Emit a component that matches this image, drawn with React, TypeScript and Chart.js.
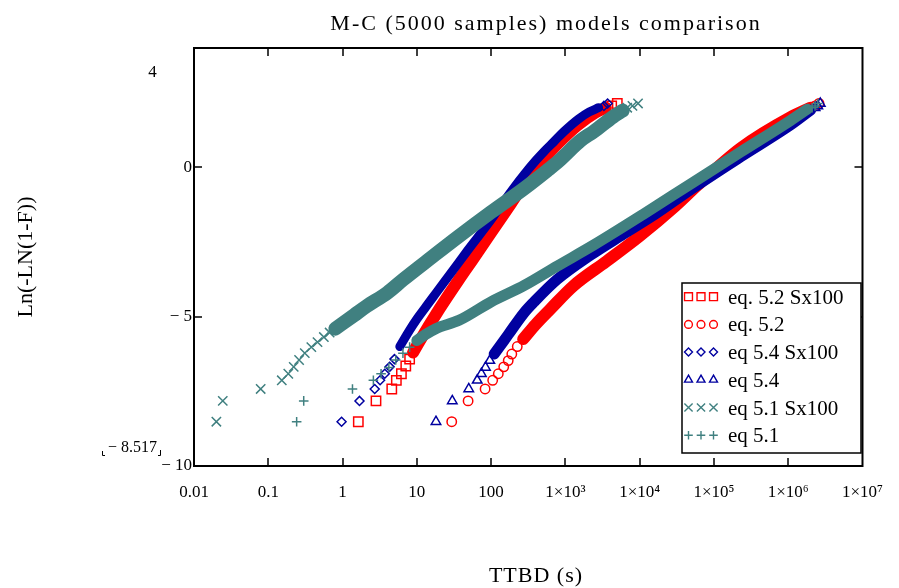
import React, { useEffect, useRef } from 'react';
import { Chart, registerables } from 'chart.js';

Chart.register(...registerables);

type Pt = [number, number];

const titleText = 'M-C (5000 samples) models comparison';
const xAxisTitle = 'TTBD (s)';
const yAxisTitle = 'Ln(-LN(1-F))';

const xMin = 0.01;
const xMax = 1e7;
const yMin = -10;
const yMax = 4;

const xTickValues = [0.01, 0.1, 1, 10, 100, 1e3, 1e4, 1e5, 1e6, 1e7];
const xTickLabels = ['0.01', '0.1', '1', '10', '100', '1×10³', '1×10⁴', '1×10⁵', '1×10⁶', '1×10⁷'];
const yTickValues = [-10, -5, 0];
const yTickLabels = ['\u2212 10', '\u2212 5', '0'];
const yTopLabel = '4';
const yMarkerLabel = '\u2212 8.517';

const seriesLabels = ['eq. 5.2 Sx100', 'eq. 5.2', 'eq 5.4 Sx100', 'eq 5.4', 'eq 5.1 Sx100', 'eq 5.1'];

// eq. 5.2 Sx100 (red squares)
const eq52Sx100Low: Pt[] = [[1.63, -8.517], [2.82, -7.82], [4.6, -7.42], [5.3, -7.13], [6.2, -6.91], [7.1, -6.65], [8.0, -6.42]];
const eq52Sx100Band: Pt[] = [[8.9, -6.2], [11, -5.8], [20, -4.75], [37, -3.75], [56, -3.1], [102, -2.15], [186, -1.2], [280, -0.55], [520, 0.3], [780, 0.78], [1435, 1.4], [2500, 1.83], [3500, 2.0]];
const eq52Sx100High: Pt[] = [[4200, 2.06], [5000, 2.142]];

// eq. 5.2 (red circles)
const eq52Low: Pt[] = [[29.5, -8.517], [49, -7.82], [83, -7.42], [105, -7.13], [125, -6.91], [148, -6.68], [170, -6.47], [190, -6.25], [225, -6.0]];
const eq52Band: Pt[] = [[270, -5.75], [400, -5.25], [630, -4.74], [1290, -3.96], [3550, -3.15], [1e4, -2.3], [3e4, -1.3], [6e4, -0.6], [2.3e5, 0.65], [1.07e6, 1.68], [2e6, 2.0]];
const eq52High: Pt[] = [[2.3e6, 2.06], [2.6e6, 2.142]];

// eq 5.4 Sx100 (blue diamonds)
const eq54Sx100Low: Pt[] = [[0.97, -8.517], [1.69, -7.82], [2.71, -7.42], [3.2, -7.13], [3.7, -6.91], [4.3, -6.68], [5.0, -6.42]];
const eq54Sx100Band: Pt[] = [[5.9, -6.0], [8, -5.45], [10, -5.08], [13.4, -4.65], [18, -4.22], [37, -3.17], [50, -2.73], [100, -1.75], [140, -1.23], [200, -0.7], [280, -0.23], [400, 0.23], [520, 0.54], [700, 0.86], [955, 1.2], [1500, 1.62], [2100, 1.86], [2800, 2.0]];
const eq54Sx100High: Pt[] = [[3300, 2.06], [3700, 2.142]];

// eq 5.4 (blue triangles)
const eq54Low: Pt[] = [[18.1, -8.517], [30, -7.82], [50, -7.42], [65, -7.13], [74, -6.91], [84, -6.7], [96, -6.47]];
const eq54Band: Pt[] = [[110, -6.25], [126, -6.05], [170, -5.6], [282, -4.85], [380, -4.5], [776, -3.75], [2140, -2.95], [5900, -2.25], [1.65e4, -1.55], [5e4, -0.72], [2.3e5, 0.36], [1.07e6, 1.42], [2e6, 1.92]];
const eq54High: Pt[] = [[2.3e6, 2.0], [2.5e6, 2.06], [2.7e6, 2.142]];

// eq 5.1 Sx100 (teal crosses x)
const eq51Sx100Low: Pt[] = [[0.02, -8.517], [0.0244, -7.82], [0.079, -7.42], [0.152, -7.13], [0.186, -6.91], [0.22, -6.68], [0.26, -6.45], [0.31, -6.22], [0.38, -6.02], [0.46, -5.85], [0.56, -5.68], [0.67, -5.53]];
const eq51Sx100Band: Pt[] = [[0.8, -5.4], [1.43, -4.95], [2.1, -4.65], [4, -4.2], [6.6, -3.75], [16, -3.0], [37, -2.3], [100, -1.5], [280, -0.7], [570, -0.1], [800, 0.2], [1600, 0.9], [2400, 1.2], [4400, 1.7], [5900, 1.9]];
const eq51Sx100High: Pt[] = [[6800, 2.0], [8000, 2.06], [9500, 2.142]];

// eq 5.1 (teal plus)
const eq51Low: Pt[] = [[0.241, -8.517], [0.3, -7.82], [1.36, -7.42], [2.6, -7.13], [3.3, -6.91], [4.2, -6.7], [5.2, -6.45], [6.5, -6.22], [8.0, -6.02]];
const eq51Band: Pt[] = [[10, -5.8], [13, -5.6], [18, -5.4], [37, -5.12], [100, -4.5], [280, -3.95], [780, -3.3], [2400, -2.6], [1.1e4, -1.58], [5e4, -0.53], [2.3e5, 0.52], [1.07e6, 1.57], [1.8e6, 1.95]];
const eq51High: Pt[] = [[2.1e6, 2.0], [2.3e6, 2.06], [2.5e6, 2.142]];

const RED = '#ff0000';
const BLUE = '#0000a0';
const TEAL = '#408080';
const FONT = '"Liberation Serif", "Times New Roman", Times, serif';

const SERIES = [
  { label: seriesLabels[0], low: eq52Sx100Low, band: eq52Sx100Band, high: eq52Sx100High, color: RED, style: 'rect', r: 6.6, lr: 5.6, bw: 12, order: 3 },
  { label: seriesLabels[1], low: eq52Low, band: eq52Band, high: eq52High, color: RED, style: 'circle', r: 4.7, lr: 3.9, bw: 12, order: 3 },
  { label: seriesLabels[2], low: eq54Sx100Low, band: eq54Sx100Band, high: eq54Sx100High, color: BLUE, style: 'rectRot', r: 4.5, lr: 4.0, bw: 9, order: 2 },
  { label: seriesLabels[3], low: eq54Low, band: eq54Band, high: eq54High, color: BLUE, style: 'triangle', r: 5.5, lr: 4.6, bw: 11, order: 2 },
  { label: seriesLabels[4], low: eq51Sx100Low, band: eq51Sx100Band, high: eq51Sx100High, color: TEAL, style: 'crossRot', r: 6.6, lr: 5.8, bw: 14, order: 1 },
  { label: seriesLabels[5], low: eq51Low, band: eq51Band, high: eq51High, color: TEAL, style: 'cross', r: 4.8, lr: 4.3, bw: 11, order: 1 },
];

function drawMarker(ctx: CanvasRenderingContext2D, style: string, x: number, y: number, r: number) {
  ctx.beginPath();
  if (style === 'rect') {
    const s = r * Math.SQRT1_2;
    ctx.rect(x - s, y - s, 2 * s, 2 * s);
  } else if (style === 'circle') {
    ctx.arc(x, y, r, 0, Math.PI * 2);
  } else if (style === 'rectRot') {
    ctx.moveTo(x - r, y);
    ctx.lineTo(x, y - r);
    ctx.lineTo(x + r, y);
    ctx.lineTo(x, y + r);
    ctx.closePath();
  } else if (style === 'triangle') {
    const h = r * Math.sin((2 * Math.PI) / 3);
    ctx.moveTo(x, y - r);
    ctx.lineTo(x + h, y + r / 2);
    ctx.lineTo(x - h, y + r / 2);
    ctx.closePath();
  } else if (style === 'cross') {
    ctx.moveTo(x - r, y);
    ctx.lineTo(x + r, y);
    ctx.moveTo(x, y - r);
    ctx.lineTo(x, y + r);
  } else if (style === 'crossRot') {
    const d = r * Math.SQRT1_2;
    ctx.moveTo(x - d, y - d);
    ctx.lineTo(x + d, y + d);
    ctx.moveTo(x + d, y - d);
    ctx.lineTo(x - d, y + d);
  }
  ctx.stroke();
}

const toXY = (pts: Pt[]) => pts.map(([x, y]) => ({ x, y }));

export default function App() {
  const ref = useRef<HTMLCanvasElement>(null);

  useEffect(() => {
    const canvas = ref.current;
    if (!canvas) return;

    const datasets: any[] = [];
    SERIES.forEach((s) => {
      datasets.push({
        label: s.label + ' band',
        data: toXY(s.band),
        showLine: true,
        borderColor: s.color,
        borderWidth: s.bw,
        borderCapStyle: 'round',
        borderJoinStyle: 'round',
        cubicInterpolationMode: 'monotone',
        pointRadius: 0,
        fill: false,
        order: s.order,
      });
      datasets.push({
        label: s.label,
        data: toXY([...s.low, ...s.high]),
        showLine: false,
        pointStyle: s.style,
        pointRadius: s.r,
        pointBorderColor: s.color,
        pointBackgroundColor: 'rgba(0,0,0,0)',
        pointBorderWidth: 1.5,
        order: s.order,
      });
    });

    const deco = {
      id: 'deco',
      afterDraw(chart: any) {
        const { ctx, chartArea: a, scales } = chart;
        const xs = scales.x;
        const ys = scales.y;
        ctx.save();
        // frame
        ctx.strokeStyle = '#000';
        ctx.lineWidth = 2;
        ctx.strokeRect(a.left, a.top, a.right - a.left, a.bottom - a.top);
        // inner tick marks
        ctx.lineWidth = 1.5;
        ctx.beginPath();
        xTickValues.forEach((v) => {
          const px = Math.round(xs.getPixelForValue(v));
          if (px <= a.left + 2 || px >= a.right - 2) return;
          ctx.moveTo(px, a.bottom);
          ctx.lineTo(px, a.bottom - 8);
          ctx.moveTo(px, a.top);
          ctx.lineTo(px, a.top + 8);
        });
        yTickValues.forEach((v) => {
          const py = Math.round(ys.getPixelForValue(v));
          if (py >= a.bottom - 2 || py <= a.top + 2) return;
          ctx.moveTo(a.left, py);
          ctx.lineTo(a.left + 8, py);
          ctx.moveTo(a.right, py);
          ctx.lineTo(a.right - 8, py);
        });
        ctx.stroke();

        ctx.fillStyle = '#000';
        // title
        ctx.font = `22px ${FONT}`;
        (ctx as any).letterSpacing = '2px';
        ctx.textAlign = 'left';
        ctx.textBaseline = 'alphabetic';
        const tw = ctx.measureText(titleText).width;
        ctx.fillText(titleText, 546 - tw / 2, 29.5);
        // x axis title
        (ctx as any).letterSpacing = '1px';
        const xw = ctx.measureText(xAxisTitle).width;
        ctx.fillText(xAxisTitle, 536 - xw / 2, 582);
        (ctx as any).letterSpacing = '0px';
        // y axis title
        ctx.save();
        ctx.translate(31.5, 257);
        ctx.rotate(-Math.PI / 2);
        ctx.textAlign = 'center';
        ctx.fillText(yAxisTitle, 0, 0);
        ctx.restore();

        // top "4" label
        ctx.font = `17px ${FONT}`;
        ctx.textAlign = 'center';
        ctx.fillText(yTopLabel, 152.5, 77);
        // -8.517 marker label
        ctx.font = `16px ${FONT}`;
        ctx.textAlign = 'left';
        ctx.fillText(yMarkerLabel, 108, 452);
        ctx.lineWidth = 1;
        ctx.beginPath();
        ctx.moveTo(102.5, 451);
        ctx.lineTo(102.5, 455.5);
        ctx.lineTo(105, 455.5);
        ctx.moveTo(160.5, 450);
        ctx.lineTo(160.5, 455.5);
        ctx.lineTo(158, 455.5);
        ctx.stroke();

        // legend
        const L = 682, T = 283, R = 861, B = 453;
        ctx.fillStyle = '#fff';
        ctx.fillRect(L, T, R - L, B - T);
        ctx.strokeStyle = '#000';
        ctx.lineWidth = 1.5;
        ctx.strokeRect(L, T, R - L, B - T);
        SERIES.forEach((s, i) => {
          const cy = T + 13.7 + i * 27.7;
          ctx.strokeStyle = s.color;
          ctx.lineWidth = 1.4;
          [688.5, 701, 713.5].forEach((mx) => drawMarker(ctx, s.style, mx, cy, s.lr));
          ctx.fillStyle = '#000';
          ctx.font = `21px ${FONT}`;
          ctx.textAlign = 'left';
          ctx.textBaseline = 'alphabetic';
          ctx.fillText(s.label, 728, cy + 7);
        });
        ctx.restore();
      },
    };

    const chart = new Chart(canvas, {
      type: 'scatter',
      data: { datasets },
      options: {
        animation: false,
        responsive: false,
        devicePixelRatio: 1,
        events: [],
        layout: { padding: { left: 0, right: 26, top: 48, bottom: 0 } },
        plugins: { legend: { display: false }, tooltip: { enabled: false }, title: { display: false } },
        scales: {
          x: {
            type: 'logarithmic',
            position: 'bottom',
            min: xMin,
            max: xMax,
            grid: { display: false, drawTicks: false },
            border: { display: false },
            afterBuildTicks: (axis: any) => {
              axis.ticks = xTickValues.map((v) => ({ value: v }));
            },
            afterFit: (axis: any) => {
              axis.height = 122;
            },
            ticks: {
              autoSkip: false,
              maxRotation: 0,
              minRotation: 0,
              padding: 16,
              color: '#000',
              font: { family: FONT, size: 17 },
              callback: (_v: any, i: number) => xTickLabels[i],
            },
          },
          y: {
            type: 'linear',
            position: 'left',
            min: yMin,
            max: yMax,
            grid: { display: false, drawTicks: false },
            border: { display: false },
            afterBuildTicks: (axis: any) => {
              axis.ticks = yTickValues.map((v) => ({ value: v }));
            },
            afterFit: (axis: any) => {
              axis.width = 194;
            },
            ticks: {
              padding: 2,
              color: '#000',
              font: { family: FONT, size: 17 },
              callback: (_v: any, i: number) => yTickLabels[i],
            },
          },
        },
      } as any,
      plugins: [deco],
    });

    return () => chart.destroy();
  }, []);

  return (
    <div style={{ position: 'fixed', left: 0, top: 0, width: 899, height: 588, background: '#fff' }}>
      <canvas ref={ref} width={899} height={588} style={{ display: 'block', width: 899, height: 588 }} />
    </div>
  );
}
